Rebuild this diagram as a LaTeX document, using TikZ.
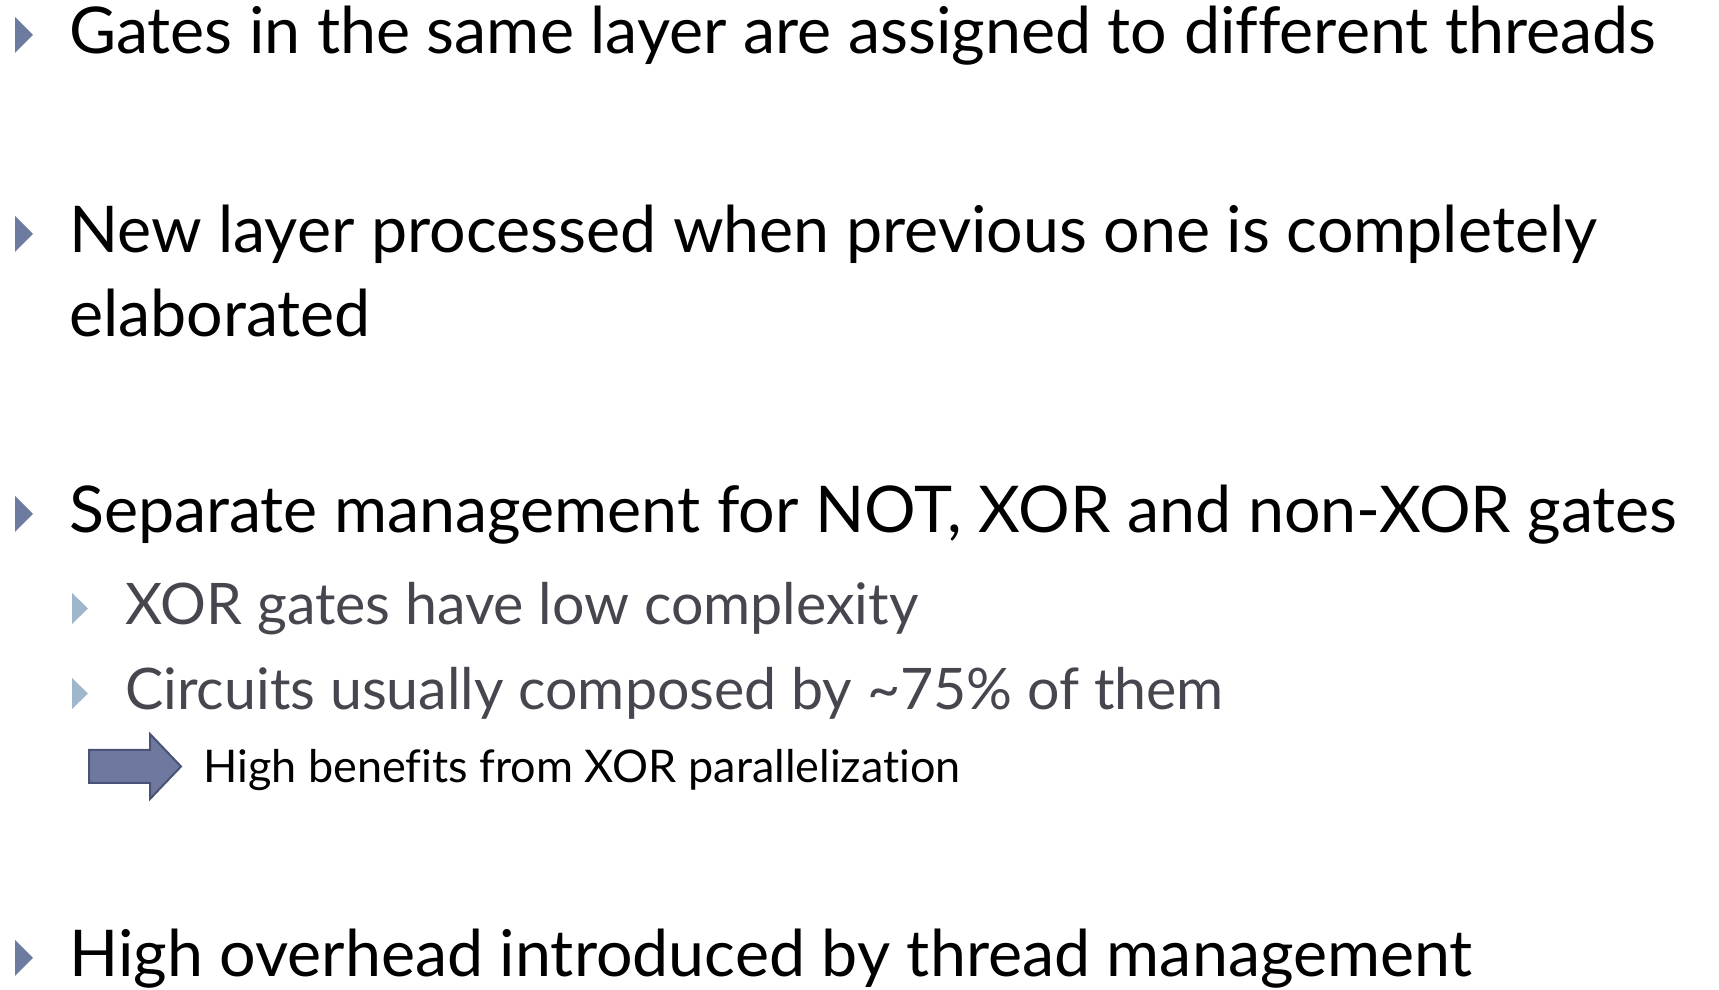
\documentclass[tikz,border=0pt]{standalone}
\usepackage{fontspec}
\setmainfont[Ligatures=NoCommon]{Lato}
\definecolor{bulletmain}{HTML}{6E7BA0}
\definecolor{bulletsub}{HTML}{9FB7CC}
\definecolor{subtext}{HTML}{46464F}
\definecolor{arrowfill}{HTML}{6F789F}
\definecolor{arrowline}{HTML}{4A5275}
\tikzset{
  x=1pt, y=1pt,
  maintext/.style={anchor=base west, inner sep=0pt, font=\fontsize{64.5}{70}\selectfont, text=black},
  subline/.style={anchor=base west, inner sep=0pt, font=\fontsize{57.3}{62}\selectfont, text=subtext},
  notetext/.style={anchor=base west, inner sep=0pt, font=\fontsize{45}{50}\selectfont, text=black},
  mainbullet/.style={fill=bulletmain},
  subbullet/.style={fill=bulletsub},
}
\begin{document}
\begin{tikzpicture}
  \useasboundingbox (0,0) rectangle (1719,990);
  % first-level items (baselines measured from the top edge)
  \node[maintext] (l1) at (69,990-54) {Gates in the same layer are assigned to different threads};
  \node[maintext] (l2) at (69,990-253) {New layer processed when previous one is completely};
  \node[maintext] (l2b) at (69,990-337) {elaborated};
  \node[maintext] (l3) at (69,990-533) {Separate management for NOT, XOR and non-XOR gates};
  \node[subline] (s1) at (125,990-625) {XOR gates have low complexity};
  \node[subline] (s2) at (125,990-710) {Circuits usually composed by \textasciitilde75\% of them};
  \node[notetext] (n1) at (203,990-783) {High benefits from XOR parallelization};
  \node[maintext] (l4) at (69,990-977) {High overhead introduced by thread management};
  % bullets
  \foreach \b in {54,253,533,977}
    \fill[mainbullet] (15,990-\b+1) -- (33,990-\b+19) -- (15,990-\b+37) -- cycle;
  \foreach \b in {625,710}
    \fill[subbullet] (72,990-\b+1) -- (88,990-\b+16.5) -- (72,990-\b+32) -- cycle;
  % block arrow
  \draw[fill=arrowfill, draw=arrowline, line width=2pt, line join=miter]
    (89,990-750) -- (150,990-750) -- (150,990-734) -- (181,990-766.5)
    -- (150,990-799) -- (150,990-783) -- (89,990-783) -- cycle;
\end{tikzpicture}
\end{document}
